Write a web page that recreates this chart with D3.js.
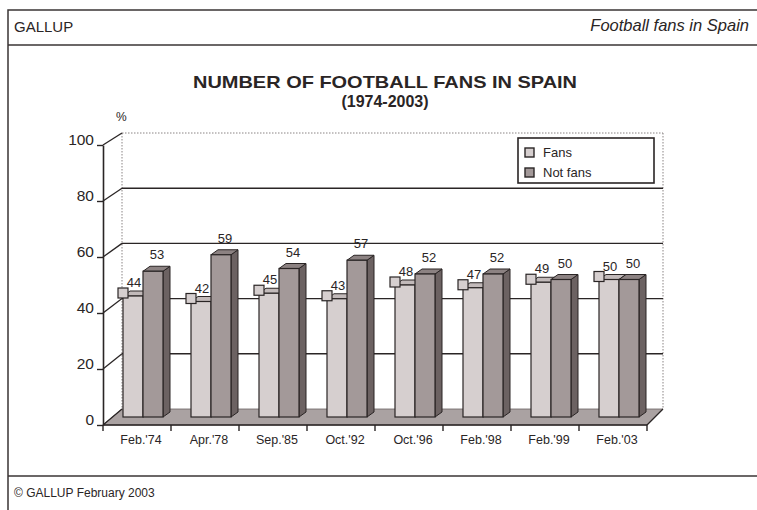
<!DOCTYPE html>
<html><head><meta charset="utf-8">
<script src="https://cdn.jsdelivr.net/npm/d3@7"></script>
<style>
html,body{margin:0;padding:0;background:#fff;}
svg{display:block;font-family:"Liberation Sans",Arial,sans-serif;}
</style></head>
<body>
<svg id="c" width="757" height="510"></svg>
<script>
const categories = ["Feb.'74","Apr.'78","Sep.'85","Oct.'92","Oct.'96","Feb.'98","Feb.'99","Feb.'03"];
const fans = [44,42,45,43,48,47,49,50];
const notFans = [53,59,54,57,52,52,50,50];
const yTicks = [0,20,40,60,80,100];
const seriesNames = ["Fans","Not fans"];

const svg = d3.select("#c");
const ink = "#2a2525";

// frame
svg.append("rect").attr("x",8).attr("y",10).attr("width",760).attr("height",510)
  .attr("fill","none").attr("stroke","#3a3535").attr("stroke-width",1.5);
svg.append("line").attr("x1",8).attr("x2",757).attr("y1",45).attr("y2",45).attr("stroke","#3a3535").attr("stroke-width",1.5);
svg.append("line").attr("x1",8).attr("x2",757).attr("y1",476).attr("y2",476).attr("stroke","#3a3535").attr("stroke-width",1.5);
svg.append("text").attr("x",14).attr("y",32).attr("font-size",15).attr("fill",ink).text("GALLUP");
svg.append("text").attr("x",749).attr("y",31).attr("font-size",16.5).attr("font-style","italic").attr("text-anchor","end").attr("fill",ink).text("Football fans in Spain");
svg.append("text").attr("x",14).attr("y",497).attr("font-size",12).attr("fill",ink).text("© GALLUP February 2003");

// titles
svg.append("text").attr("x",385).attr("y",88).attr("font-size",17).attr("font-weight","bold").attr("text-anchor","middle").attr("fill",ink)
  .attr("textLength",384).attr("lengthAdjust","spacingAndGlyphs").text("NUMBER OF FOOTBALL FANS IN SPAIN");
svg.append("text").attr("x",385).attr("y",107).attr("font-size",16).attr("font-weight","bold").attr("text-anchor","middle").attr("fill",ink).text("(1974-2003)");
svg.append("text").attr("x",116).attr("y",121).attr("font-size",12).attr("fill",ink).text("%");

// scales
const x = d3.scaleBand().domain(categories).range([103,647]);
const yFront = d3.scaleLinear().domain([0,100]).range([425,145]);
const yBack = d3.scaleLinear().domain([0,100]).range([409,133]);
const yBar = d3.scaleLinear().domain([0,100]).range([417,142]);
const backL = 122, backR = 663;

// floor
svg.append("path").attr("d",`M${x.range()[0]},${yFront(0)} L${x.range()[1]},${yFront(0)} L${backR},${yBack(0)} L${backL},${yBack(0)} Z`)
  .attr("fill","#aaa2a2").attr("stroke","#6a6262").attr("stroke-width",0.8);

// back wall edges (dotted)
const g = svg.append("g");
g.append("line").attr("x1",backL).attr("x2",backL).attr("y1",yBack(100)).attr("y2",yBack(0)).attr("stroke","#8a8484").attr("stroke-dasharray","1.5,1.5");
g.append("line").attr("x1",backR).attr("x2",backR).attr("y1",yBack(100)).attr("y2",yBack(0)).attr("stroke","#8a8484").attr("stroke-dasharray","1.5,1.5");
g.append("line").attr("x1",backL).attr("x2",backR).attr("y1",yBack(100)).attr("y2",yBack(100)).attr("stroke","#8a8484").attr("stroke-dasharray","1.5,1.5");

// gridlines on back wall + diagonals
yTicks.filter(v=>v>0 && v<100).forEach(v=>{
  g.append("line").attr("x1",backL).attr("x2",backR).attr("y1",yBack(v)).attr("y2",yBack(v)).attr("stroke",ink).attr("stroke-width",1.4);
});
yTicks.forEach(v=>{
  g.append("line").attr("x1",x.range()[0]).attr("y1",yFront(v)).attr("x2",backL).attr("y2",yBack(v)).attr("stroke",ink).attr("stroke-width",1.3);
});
g.append("line").attr("x1",x.range()[1]).attr("y1",yFront(0)).attr("x2",backR).attr("y2",yBack(0)).attr("stroke",ink).attr("stroke-width",1.3);

// front axis
const ax = svg.append("g").attr("transform",`translate(${x.range()[0]},0)`)
  .call(d3.axisLeft(yFront).tickValues(yTicks).tickSize(6).tickPadding(3).tickSizeOuter(0));
ax.select(".domain").attr("stroke",ink).attr("stroke-width",1.6);
ax.selectAll(".tick line").attr("stroke",ink).attr("stroke-width",1.4);
ax.selectAll(".tick text").attr("font-size",15.5).attr("fill",ink).attr("dy","-0.05em").attr("font-family","Liberation Sans, Arial, sans-serif");

// floor front edge + category ticks
svg.append("line").attr("x1",x.range()[0]).attr("x2",x.range()[1]).attr("y1",yFront(0)).attr("y2",yFront(0)).attr("stroke",ink).attr("stroke-width",1.6);
const bounds = categories.map(c=>x(c)).concat([x.range()[1]]);
svg.selectAll(".ctick").data(bounds).join("line").attr("class","ctick")
  .attr("x1",d=>d).attr("x2",d=>d).attr("y1",yFront(0)).attr("y2",yFront(0)+6).attr("stroke",ink).attr("stroke-width",1.4);
svg.selectAll(".clab").data(categories).join("text").attr("class","clab")
  .attr("x",d=>x(d)+x.bandwidth()/2+4).attr("y",444).attr("text-anchor","middle").attr("font-size",12.5).attr("fill",ink).text(d=>d);

// bars
const bw = 20, ddx = 7, ddy = -5, base = yBar(0);
const colors = [
  {front:"#d6cfcf", top:"#c2baba", side:"#9b9292"},
  {front:"#a39999", top:"#8c8282", side:"#6c6262"}
];
function bar(gp, x0, v, col){
  const t = yBar(v);
  gp.append("path").attr("d",`M${x0+bw},${t} L${x0+bw+ddx},${t+ddy} L${x0+bw+ddx},${base+ddy} L${x0+bw},${base} Z`)
    .attr("fill",col.side).attr("stroke",ink).attr("stroke-width",1);
  gp.append("path").attr("d",`M${x0},${t} L${x0+ddx},${t+ddy} L${x0+bw+ddx},${t+ddy} L${x0+bw},${t} Z`)
    .attr("fill",col.top).attr("stroke",ink).attr("stroke-width",1);
  gp.append("rect").attr("x",x0).attr("y",t).attr("width",bw).attr("height",base-t)
    .attr("fill",col.front).attr("stroke",ink).attr("stroke-width",1.2);
}
categories.forEach((c,i)=>{
  const gp = svg.append("g");
  const xf = x(c)+20, xn = x(c)+40;
  bar(gp, xf, fans[i], colors[0]);
  bar(gp, xn, notFans[i], colors[1]);
  gp.append("rect").attr("x",xf-5).attr("y",yBar(fans[i])-8).attr("width",10).attr("height",10)
    .attr("fill","#d6cfcf").attr("stroke",ink).attr("stroke-width",1.2);
  gp.append("text").attr("x",xf+bw/2+1).attr("y",yBar(fans[i])-9).attr("text-anchor","middle").attr("font-size",13).attr("fill",ink).text(fans[i]);
  gp.append("text").attr("x",xn+bw/2+4).attr("y",yBar(notFans[i])-12).attr("text-anchor","middle").attr("font-size",13).attr("fill",ink).text(notFans[i]);
});

// legend
const lg = svg.append("g");
lg.append("rect").attr("x",518).attr("y",138).attr("width",136).attr("height",45).attr("fill","#fff").attr("stroke",ink).attr("stroke-width",1.6);
seriesNames.forEach((n,i)=>{
  lg.append("rect").attr("x",525).attr("y",148+i*20).attr("width",9).attr("height",9)
    .attr("fill",colors[i].front).attr("stroke",ink).attr("stroke-width",1.4);
  lg.append("text").attr("x",543).attr("y",157+i*20).attr("font-size",13).attr("fill",ink).text(n);
});
</script>
</body></html>
